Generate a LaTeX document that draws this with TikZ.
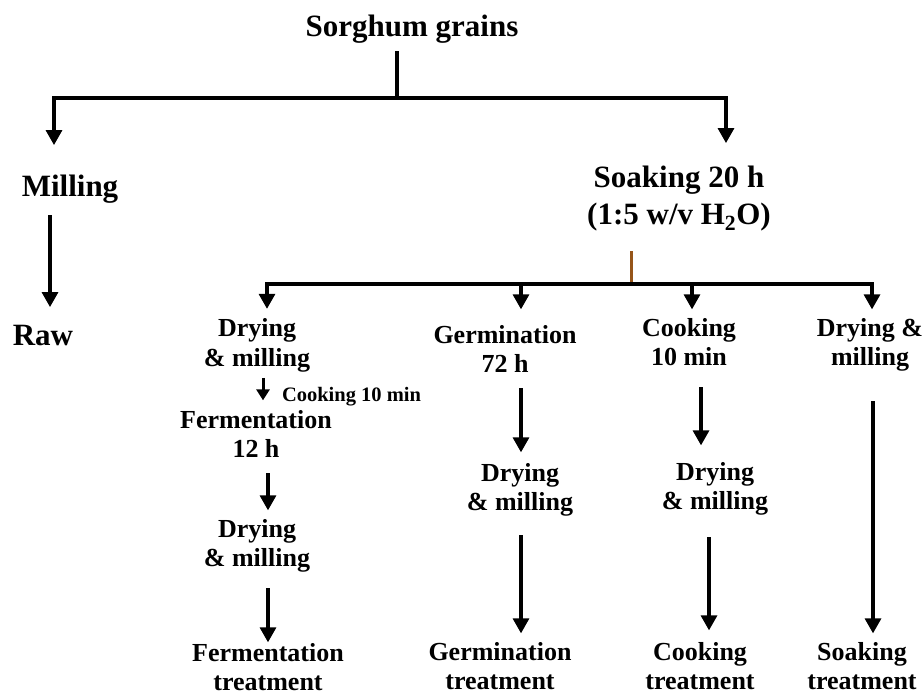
\documentclass[tikz,border=0pt]{standalone}
\usepackage{fontspec}
\setmainfont{Liberation Serif}
\usetikzlibrary{arrows.meta,calc}
\definecolor{brn}{RGB}{150,85,25}
\begin{document}
\begin{tikzpicture}[x=1pt,y=-1pt,
  ttl/.style={font=\fontsize{31}{37}\selectfont\bfseries,align=center,inner sep=0pt,outer sep=0pt,anchor=north},
  lbl/.style={font=\fontsize{26}{29.5}\selectfont\bfseries,align=center,inner sep=0pt,outer sep=0pt,anchor=north},
  sml/.style={font=\fontsize{20.5}{24}\selectfont\bfseries,inner sep=0pt,outer sep=0pt,anchor=north west},
  ln/.style={line width=3.2pt},
  arr/.style={line width=3.2pt,-{Triangle[width=16pt,length=15pt]}},
  sarr/.style={line width=3pt,-{Triangle[width=13pt,length=11pt]}},
  brnln/.style={line width=3pt,draw=brn}]
\useasboundingbox (0,0) rectangle (924,695);

% top level
\node[ttl] (sg) at (412,11.1) {Sorghum grains\strut};
\node[ttl] (mil) at (70,171.1) {Milling\strut};
\node[ttl] (raw) at (43,319.1) {Raw\strut};
\node[ttl] (soak) at (679,162.1) {Soaking 20 h\strut\\(1:5 w/v H\textsubscript{2}O)\strut};

% second level
\node[lbl] (c1a) at (257,315.85) {Drying\strut\\\& milling\strut};
\node[sml] (ck) at (282,384.2) {Cooking 10 min\strut};
\node[lbl] (ferm) at (256,407.35) {Fermentation\strut\\12 h\strut};
\node[lbl] (c1b) at (257,516.35) {Drying\strut\\\& milling\strut};
\node[lbl] (c1c) at (268,640.35) {Fermentation\strut\\treatment};

\node[lbl] (g1) at (505,322.35) {Germination\strut\\72 h\strut};
\node[lbl] (g2) at (520,460.35) {Drying\strut\\\& milling\strut};
\node[lbl] (g3) at (500,639.35) {Germination\strut\\treatment};

\node[lbl] (k1) at (689,315.35) {Cooking\strut\\10 min\strut};
\node[lbl] (k2) at (715,459.35) {Drying\strut\\\& milling\strut};
\node[lbl] (k3) at (700,639.35) {Cooking\strut\\treatment};

\node[lbl] (s1) at (870,315.35) {Drying \&\strut\\milling\strut};
\node[lbl] (s3) at (862,639.35) {Soaking\strut\\treatment};

% junction coordinates
\coordinate (j1) at (397,98);
\coordinate (bl) at (54,98);
\coordinate (br) at (726,98);
\coordinate (xm) at (50,0);
\coordinate (j2) at (631,284);
\coordinate (b2l) at (267,284);
\coordinate (d2) at (521,284);
\coordinate (d3) at (692,284);
\coordinate (b2r) at (872,284);

% first split
\draw[ln] ($(j1 |- sg.south)+(0,3)$) -- (j1);
\draw[ln] ([xshift=-1.6pt]bl) -- ([xshift=1.6pt]br);
\draw[arr] (bl) -- ($(bl |- mil.north)+(0,-26)$);
\draw[arr] (br) -- ($(br |- soak.north)+(0,-19)$);
\draw[arr] ($(xm |- mil.south)+(0,7)$) -- ($(xm |- raw.north)+(0,-12)$);

% second split
\draw[brnln] ($(j2 |- soak.south)+(0,15)$) -- (j2);
\draw[ln] ([xshift=-1.6pt]b2l) -- ([xshift=1.6pt]b2r);
\draw[arr] (b2l) -- ($(b2l |- c1a.north)+(0,-7)$);
\draw[arr] (d2) -- ($(d2 |- g1.north)+(0,-13)$);
\draw[arr] (d3) -- ($(d3 |- k1.north)+(0,-6)$);
\draw[arr] (b2r) -- ($(b2r |- s1.north)+(0,-6)$);

% column 1
\draw[sarr] ($(c1a.south)+(6,3)$) -- ($(ferm.north)+(7,-7)$);
\draw[arr] ($(ferm.south)+(12,7)$) -- ($(c1b.north)+(11,-6)$);
\draw[arr] ($(c1b.south)+(11,13)$) -- ($(c1c.north)+(0,2)$);

% column 2
\draw[arr] ($(g1.south)+(16,7)$) -- ($(g2.north)+(1,-8)$);
\draw[arr] ($(g2.south)+(1,16)$) -- ($(g3.north)+(21,-6)$);

% column 3
\draw[arr] ($(k1.south)+(12,13)$) -- ($(k2.north)+(-14,-14)$);
\draw[arr] ($(k2.south)+(-6,19)$) -- ($(k3.north)+(9,-9)$);

% column 4
\draw[arr] ($(s1.south)+(3,27)$) -- ($(s3.north)+(11,-6)$);
\end{tikzpicture}
\end{document}
